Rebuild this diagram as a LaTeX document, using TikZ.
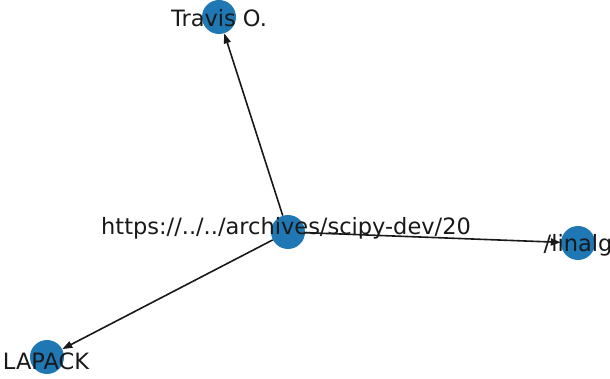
\documentclass[tikz,border=0pt]{standalone}
\usepackage{fontspec}
\setmainfont{DejaVu Sans}
\usetikzlibrary{arrows.meta}
\definecolor{nodeblue}{HTML}{1F77B4}
\tikzset{
  dot/.style={circle,fill=nodeblue,draw=none,minimum size=34pt,inner sep=0pt},
  lbl/.style={inner sep=0pt,font=\fontsize{22.5}{26}\selectfont,text=black!90}
}
\begin{document}
\begin{tikzpicture}[x=1pt,y=-1pt]
      \useasboundingbox (0,0) rectangle (610,379);
      \draw
        (288,232) node[dot] (c){}
        (219,17) node[dot] (t){}
        (578,243) node[dot] (l){}
        (47,357) node[dot] (p){};
      \begin{scope}[-{Triangle[length=10pt,width=7pt]},line width=1.6pt,black!90]
        \draw (c) to (t);
        \draw (c) to (l);
        \draw (c) to (p);
      \end{scope}
      \draw
        (286,228) node[lbl] (lc){https://../../archives/scipy-dev/20}
        (219,18) node[lbl] (lt){Travis O.}
        (578,245) node[lbl] (ll){/linalg}
        (46,361) node[lbl] (lp){LAPACK};
    \end{tikzpicture}
\end{document}
